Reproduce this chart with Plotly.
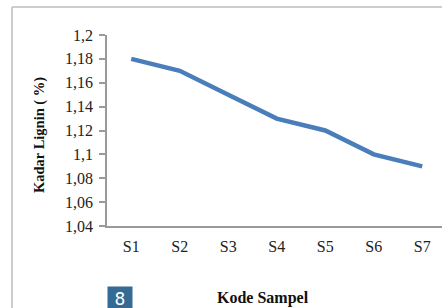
import plotly.graph_objects as go

categories = ["S1", "S2", "S3", "S4", "S5", "S6", "S7"]
kadar_lignin = [1.18, 1.17, 1.15, 1.13, 1.12, 1.10, 1.09]
y_tickvals = [1.04, 1.06, 1.08, 1.10, 1.12, 1.14, 1.16, 1.18, 1.20]
y_ticktext = ["1,04", "1,06", "1,08", "1,1", "1,12", "1,14", "1,16", "1,18", "1,2"]

W, H = 442, 308
ML, MR, MT, MB = 107, 0, 35, 82
pw, ph = W - ML - MR, H - MT - MB

def px_x(x):
    return (x - ML) / pw

def px_y(y):
    return (H - MB - y) / ph

font_family = "Liberation Serif"

fig = go.Figure()
fig.add_trace(go.Scatter(
    x=list(range(len(categories))), y=kadar_lignin, mode="lines",
    line=dict(color="#4A7EBB", width=4.5), showlegend=False,
))

fig.update_layout(
    width=W, height=H,
    margin=dict(l=ML, r=MR, t=MT, b=MB),
    paper_bgcolor="white", plot_bgcolor="white",
    font=dict(family=font_family, size=16, color="#222"),
    xaxis=dict(
        range=[-0.5, -0.5 + pw / 48.5],
        tickvals=list(range(len(categories))), ticktext=categories,
        showgrid=False, zeroline=False, showline=True,
        linecolor="#9a9a9a", linewidth=2, ticks="",
        ticklabelstandoff=5,
        tickfont=dict(family=font_family, size=16, color="#222"),
    ),
    yaxis=dict(
        range=[1.04, 1.2], tickvals=y_tickvals, ticktext=y_ticktext,
        showgrid=False, zeroline=False, showline=True,
        linecolor="#9a9a9a", linewidth=1.5, ticks="outside",
        ticklen=6, tickcolor="#9a9a9a", tickwidth=1.5,
        ticklabelstandoff=3,
        tickfont=dict(family=font_family, size=16, color="#222"),
    ),
    shapes=[
        dict(type="line", xref="paper", yref="paper",
             x0=px_x(12), x1=px_x(460), y0=px_y(7), y1=px_y(7),
             line=dict(color="#bdbdbd", width=1.5)),
        dict(type="line", xref="paper", yref="paper",
             x0=px_x(12), x1=px_x(12), y0=px_y(7), y1=px_y(320),
             line=dict(color="#bdbdbd", width=1.5)),
    ],
    annotations=[
        dict(text="<b>Kadar Lignin ( %)</b>", xref="paper", yref="paper",
             x=px_x(39), y=px_y(135), textangle=-90, showarrow=False,
             font=dict(family=font_family, size=14.5, color="#111"),
             xanchor="center", yanchor="middle"),
        dict(text="<b>Kode Sampel</b>", xref="paper", yref="paper",
             x=px_x(263), y=px_y(298), showarrow=False,
             font=dict(family=font_family, size=16, color="#111"),
             xanchor="center", yanchor="middle"),
        dict(text="8", xref="paper", yref="paper",
             x=px_x(120), y=px_y(299), showarrow=False,
             font=dict(family="DejaVu Sans", size=17, color="white"),
             bgcolor="#356a94", width=24, height=24, borderpad=0,
             xanchor="center", yanchor="middle"),
    ],
)

fig.write_html(
    "out.html",
    config={"displayModeBar": False},
    post_script="document.body.style.margin='0';document.body.style.overflow='hidden';",
)
